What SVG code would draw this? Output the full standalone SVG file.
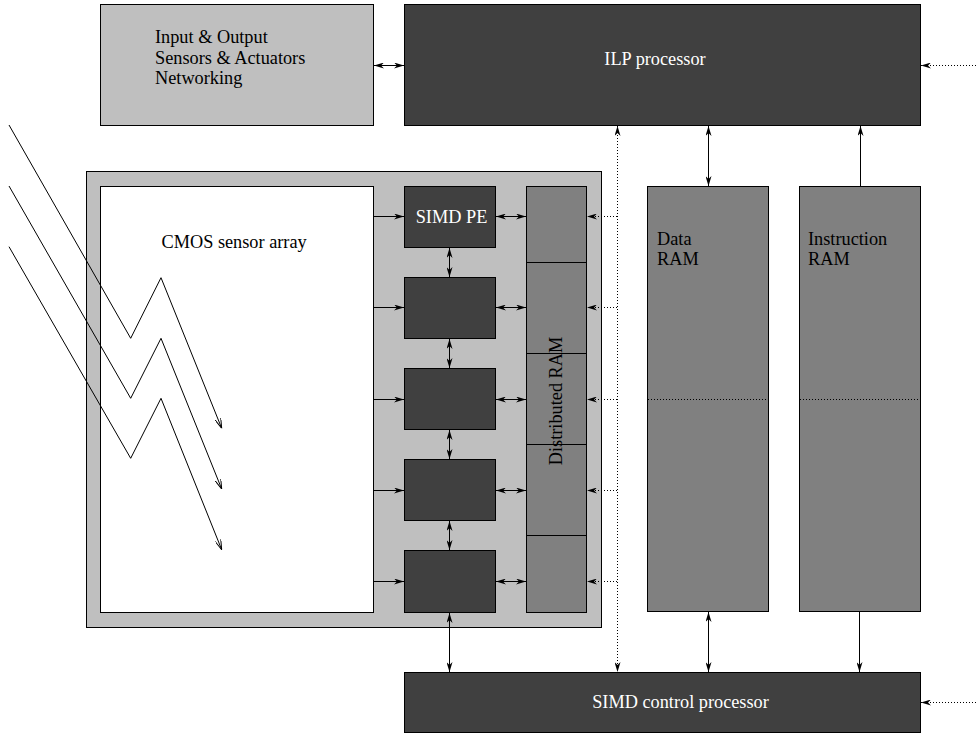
<svg xmlns="http://www.w3.org/2000/svg" width="976" height="735" viewBox="0 0 976 735">
<style>
.box{stroke:#000;stroke-width:1}
.lt{fill:#bfbfbf}
.dk{fill:#404040}
.md{fill:#808080}
.wh{fill:#ffffff}
text{font-family:'Liberation Serif','Times New Roman',Times,'DejaVu Serif',serif;font-size:18.3px}
.wt{fill:#ffffff}
.bt{fill:#000000}
.c{fill:none;stroke:#000;stroke-width:1}
.a{marker-end:url(#ah)}
.aa{marker-start:url(#ah);marker-end:url(#ah)}
.dot{stroke-dasharray:1,2}
.ray{fill:none;stroke:#000;stroke-width:1;marker-end:url(#oh)}
</style>
<defs>
<marker id="ah" viewBox="0 0 10 6" refX="10" refY="3" markerWidth="10" markerHeight="6" orient="auto-start-reverse" markerUnits="userSpaceOnUse">
<path d="M0,0 L10,3 L0,6 L3,3 z" fill="#000"/>
</marker>
<marker id="oh" viewBox="0 0 10 6" refX="10" refY="3" markerWidth="10" markerHeight="6" orient="auto" markerUnits="userSpaceOnUse">
<path d="M0,0 L10,3 L0,6" fill="none" stroke="#000" stroke-width="1"/>
</marker>
</defs>
<rect width="976" height="735" fill="#ffffff"/>

<g id="io">
<rect class="box lt" x="100.5" y="4.5" width="273" height="121"/>
<text class="bt" x="155" y="43" font-family="Liberation Serif, serif">Input &amp; Output</text>
<text class="bt" x="155" y="64" font-family="Liberation Serif, serif">Sensors &amp; Actuators</text>
<text class="bt" x="155" y="84" font-family="Liberation Serif, serif">Networking</text>
</g>

<g id="ilp">
<rect class="box dk" x="404.5" y="4.5" width="516" height="121"/>
<text class="wt" x="655" y="65" text-anchor="middle" font-family="Liberation Serif, serif">ILP processor</text>
</g>

<g id="sensor-chip">
<rect class="box lt" x="86.5" y="171.5" width="515" height="456"/>
</g>

<g id="cmos">
<rect class="box wh" x="100.5" y="186.5" width="273" height="426"/>
<text class="bt" x="161.5" y="247.5" font-family="Liberation Serif, serif">CMOS sensor array</text>
</g>

<g id="pe1">
<rect class="box dk" x="404.5" y="186.5" width="91" height="61"/>
<text class="wt" x="451.5" y="223" text-anchor="middle" font-family="Liberation Serif, serif">SIMD PE</text>
</g>
<g id="pe2"><rect class="box dk" x="404.5" y="277.5" width="91" height="61"/></g>
<g id="pe3"><rect class="box dk" x="404.5" y="368.5" width="91" height="61"/></g>
<g id="pe4"><rect class="box dk" x="404.5" y="459.5" width="91" height="61"/></g>
<g id="pe5"><rect class="box dk" x="404.5" y="550.5" width="91" height="62"/></g>

<g id="distributed-ram">
<rect class="box md" x="526.5" y="186.5" width="60" height="426"/>
<line class="c" x1="526.5" y1="262.5" x2="586.5" y2="262.5"/>
<line class="c" x1="526.5" y1="353.5" x2="586.5" y2="353.5"/>
<line class="c" x1="526.5" y1="444.5" x2="586.5" y2="444.5"/>
<line class="c" x1="526.5" y1="535.5" x2="586.5" y2="535.5"/>
<text class="bt" transform="translate(562,401) rotate(-90)" text-anchor="middle" font-family="Liberation Serif, serif">Distributed RAM</text>
</g>

<g id="data-ram">
<rect class="box md" x="647.5" y="186.5" width="121" height="425"/>
<line class="c dot" x1="648" y1="399.5" x2="768" y2="399.5"/>
<text class="bt" x="657" y="245" font-family="Liberation Serif, serif">Data</text>
<text class="bt" x="657" y="265" font-family="Liberation Serif, serif">RAM</text>
</g>

<g id="instruction-ram">
<rect class="box md" x="799.5" y="186.5" width="121" height="425"/>
<line class="c dot" x1="800" y1="399.5" x2="920" y2="399.5"/>
<text class="bt" x="808" y="245" font-family="Liberation Serif, serif">Instruction</text>
<text class="bt" x="808" y="265" font-family="Liberation Serif, serif">RAM</text>
</g>

<g id="simd-control">
<rect class="box dk" x="404.5" y="672.5" width="516" height="60"/>
<text class="wt" x="680.5" y="708" text-anchor="middle" font-family="Liberation Serif, serif">SIMD control processor</text>
</g>

<g id="connectors">
<line class="c aa" x1="374" y1="65.5" x2="404" y2="65.5"/>
<line class="c dot a" x1="976" y1="65.5" x2="921" y2="65.5"/>
<line class="c aa" x1="708.5" y1="126" x2="708.5" y2="186"/>
<line class="c a" x1="860.5" y1="186" x2="860.5" y2="126"/>
<line class="c dot aa" x1="617.5" y1="126" x2="617.5" y2="672"/>
<line class="c aa" x1="708.5" y1="612" x2="708.5" y2="672"/>
<line class="c a" x1="859.5" y1="612" x2="859.5" y2="672"/>
<line class="c dot a" x1="976" y1="702.5" x2="921" y2="702.5"/>

<line class="c a" x1="374" y1="216.5" x2="404" y2="216.5"/>
<line class="c a" x1="374" y1="307.5" x2="404" y2="307.5"/>
<line class="c a" x1="374" y1="399.5" x2="404" y2="399.5"/>
<line class="c a" x1="374" y1="490.5" x2="404" y2="490.5"/>
<line class="c a" x1="374" y1="581.5" x2="404" y2="581.5"/>

<line class="c aa" x1="496" y1="216.5" x2="526" y2="216.5"/>
<line class="c aa" x1="496" y1="307.5" x2="526" y2="307.5"/>
<line class="c aa" x1="496" y1="399.5" x2="526" y2="399.5"/>
<line class="c aa" x1="496" y1="490.5" x2="526" y2="490.5"/>
<line class="c aa" x1="496" y1="581.5" x2="526" y2="581.5"/>

<line class="c dot a" x1="617" y1="216.5" x2="587" y2="216.5"/>
<line class="c dot a" x1="617" y1="307.5" x2="587" y2="307.5"/>
<line class="c dot a" x1="617" y1="399.5" x2="587" y2="399.5"/>
<line class="c dot a" x1="617" y1="490.5" x2="587" y2="490.5"/>
<line class="c dot a" x1="617" y1="581.5" x2="587" y2="581.5"/>

<line class="c aa" x1="449.5" y1="248" x2="449.5" y2="277"/>
<line class="c aa" x1="449.5" y1="339" x2="449.5" y2="368"/>
<line class="c aa" x1="449.5" y1="430" x2="449.5" y2="459"/>
<line class="c aa" x1="449.5" y1="521" x2="449.5" y2="550"/>
<line class="c aa" x1="449.5" y1="613" x2="449.5" y2="672"/>

<polyline class="ray" points="9,125 130.7,338.3 161,277.7 221.7,428.3"/>
<polyline class="ray" points="9,186 130.7,398.3 161,338.3 221.7,489"/>
<polyline class="ray" points="9,246.7 130.7,458.3 161,398.3 221.7,549.7"/>
</g>
</svg>
